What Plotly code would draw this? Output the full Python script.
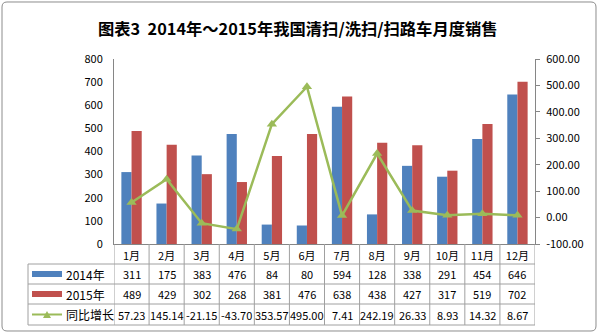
import plotly.graph_objects as go

months = ["1月", "2月", "3月", "4月", "5月", "6月", "7月", "8月", "9月", "10月", "11月", "12月"]
sales_2014 = [311, 175, 383, 476, 84, 80, 594, 128, 338, 291, 454, 646]
sales_2015 = [489, 429, 302, 268, 381, 476, 638, 438, 427, 317, 519, 702]
growth = [57.23, 145.14, -21.15, -43.70, 353.57, 495.00, 7.41, 242.19, 26.33, 8.93, 14.32, 8.67]
left_ticks = [0, 100, 200, 300, 400, 500, 600, 700, 800]
right_ticks = [-100, 0, 100, 200, 300, 400, 500, 600]
series_names = ["2014年", "2015年", "同比增长"]
title_text = "图表3  2014年～2015年我国清扫/洗扫/扫路车月度销售"

BLUE, RED, GREEN = "#4F81BD", "#C0504D", "#9BBB59"
GRID = "#A0A0A0"
FONT = "Noto Sans CJK SC"

W, H = 600, 335
L, R, T, B = 114, 65, 59, 91
PW, PH = W - L - R, H - T - B


def py(px):
    return (H - B - px) / PH


def pxp(px):
    return (px - L) / PW


fig = go.Figure()
fig.add_bar(x=months, y=sales_2014, marker=dict(color=BLUE, line=dict(width=0)), name=series_names[0])
fig.add_bar(x=months, y=sales_2015, marker=dict(color=RED, line=dict(width=0)), name=series_names[1])
fig.add_scatter(x=months, y=growth, yaxis="y2", mode="lines+markers", name=series_names[2],
                line=dict(color=GREEN, width=2.5),
                marker=dict(symbol="triangle-up", size=9, color=GREEN))

shapes = []
annotations = []

# outer border
x0, y0, x1, y1, r = 2, 2, 596, 331, 5
path = (f"M{x0+r},{y0} L{x1-r},{y0} Q{x1},{y0} {x1},{y0+r} L{x1},{y1-r} Q{x1},{y1} {x1-r},{y1} "
        f"L{x0+r},{y1} Q{x0},{y1} {x0},{y1-r} L{x0},{y0+r} Q{x0},{y0} {x0+r},{y0} Z")


def path_paper(p):
    out = []
    for tok in p.split(" "):
        cmd = tok[0] if tok[0].isalpha() else ""
        rest = tok[1:] if cmd else tok
        if rest:
            a, b = rest.split(",")
            out.append(f"{cmd}{pxp(float(a)):.5f},{py(float(b)):.5f}")
        else:
            out.append(cmd)
    return " ".join(out)


shapes.append(dict(type="path", xref="paper", yref="paper", path=path_paper(path),
                   line=dict(color="#8C8C8C", width=1), layer="below"))

# table lines
row_lines = [264, 284, 304, 325]
for yy in row_lines:
    shapes.append(dict(type="line", xref="paper", yref="paper", x0=pxp(28), x1=1,
                       y0=py(yy), y1=py(yy), line=dict(color=GRID, width=1)))
for i in range(len(months) + 1):
    shapes.append(dict(type="line", xref="x", yref="paper", x0=i - 0.5, x1=i - 0.5,
                       y0=py(244), y1=py(325), line=dict(color=GRID, width=1)))
shapes.append(dict(type="line", xref="paper", yref="paper", x0=pxp(28), x1=pxp(28),
                   y0=py(264), y1=py(325), line=dict(color=GRID, width=1)))

# legend keys in the table
shapes.append(dict(type="rect", xref="paper", yref="paper", x0=pxp(32), x1=pxp(62),
                   y0=py(277), y1=py(271), fillcolor=BLUE, line=dict(width=0)))
shapes.append(dict(type="rect", xref="paper", yref="paper", x0=pxp(32), x1=pxp(62),
                   y0=py(297), y1=py(291), fillcolor=RED, line=dict(width=0)))
shapes.append(dict(type="line", xref="paper", yref="paper", x0=pxp(32), x1=pxp(62),
                   y0=py(314.5), y1=py(314.5), line=dict(color=GREEN, width=2)))
shapes.append(dict(type="path", xref="paper", yref="paper",
                   path=f"M{pxp(43):.5f},{py(318):.5f} L{pxp(51):.5f},{py(318):.5f} L{pxp(47):.5f},{py(311):.5f} Z",
                   fillcolor=GREEN, line=dict(width=0)))

row_y = [274, 294, 314.5]
for name, yy in zip(series_names, row_y):
    annotations.append(dict(xref="paper", yref="paper", x=pxp(64), y=py(yy), text=name,
                            showarrow=False, xanchor="left", yanchor="middle",
                            font=dict(size=12, color="#000000", family=FONT)))

rows = [
    [str(v) for v in sales_2014],
    [str(v) for v in sales_2015],
    [f"{v:.2f}" for v in growth],
]
for vals, yy in zip(rows, row_y):
    for m, t in zip(months, vals):
        annotations.append(dict(xref="x", yref="paper", x=m, y=py(yy), text=t, showarrow=False,
                                xanchor="center", yanchor="middle",
                                font=dict(size=11, color="#000000", family=FONT)))

annotations.append(dict(xref="paper", yref="paper", x=pxp(298), y=py(28), text=f"<b>{title_text}</b>",
                        showarrow=False, xanchor="center", yanchor="middle",
                        font=dict(size=16.3, color="#000000", family=FONT)))

fig.update_layout(
    width=W, height=H,
    margin=dict(l=L, r=R, t=T, b=B, pad=0),
    paper_bgcolor="white", plot_bgcolor="white",
    showlegend=False,
    barmode="group", bargap=0.42, bargroupgap=0,
    font=dict(family=FONT, color="#000000", size=11),
    xaxis=dict(type="category", range=[-0.5, 11.5], showline=True, linecolor="#868686",
               ticks="", showgrid=False, tickfont=dict(size=11), ticklabelstandoff=2),
    yaxis=dict(range=[0, 800], tickvals=left_ticks, showline=True, linecolor="#868686",
               showgrid=False, zeroline=False, ticks="", ticklabelstandoff=8, tickfont=dict(size=11)),
    yaxis2=dict(overlaying="y", side="right", range=[-100, 600], tickvals=right_ticks,
                ticktext=[f"{v:.2f}" for v in right_ticks], showline=True, linecolor="#868686",
                ticks="outside", ticklen=4, tickcolor="#868686", showgrid=False, zeroline=False,
                ticklabelstandoff=4, tickfont=dict(size=11)),
    shapes=shapes,
    annotations=annotations,
)

fig.write_html("out.html")
